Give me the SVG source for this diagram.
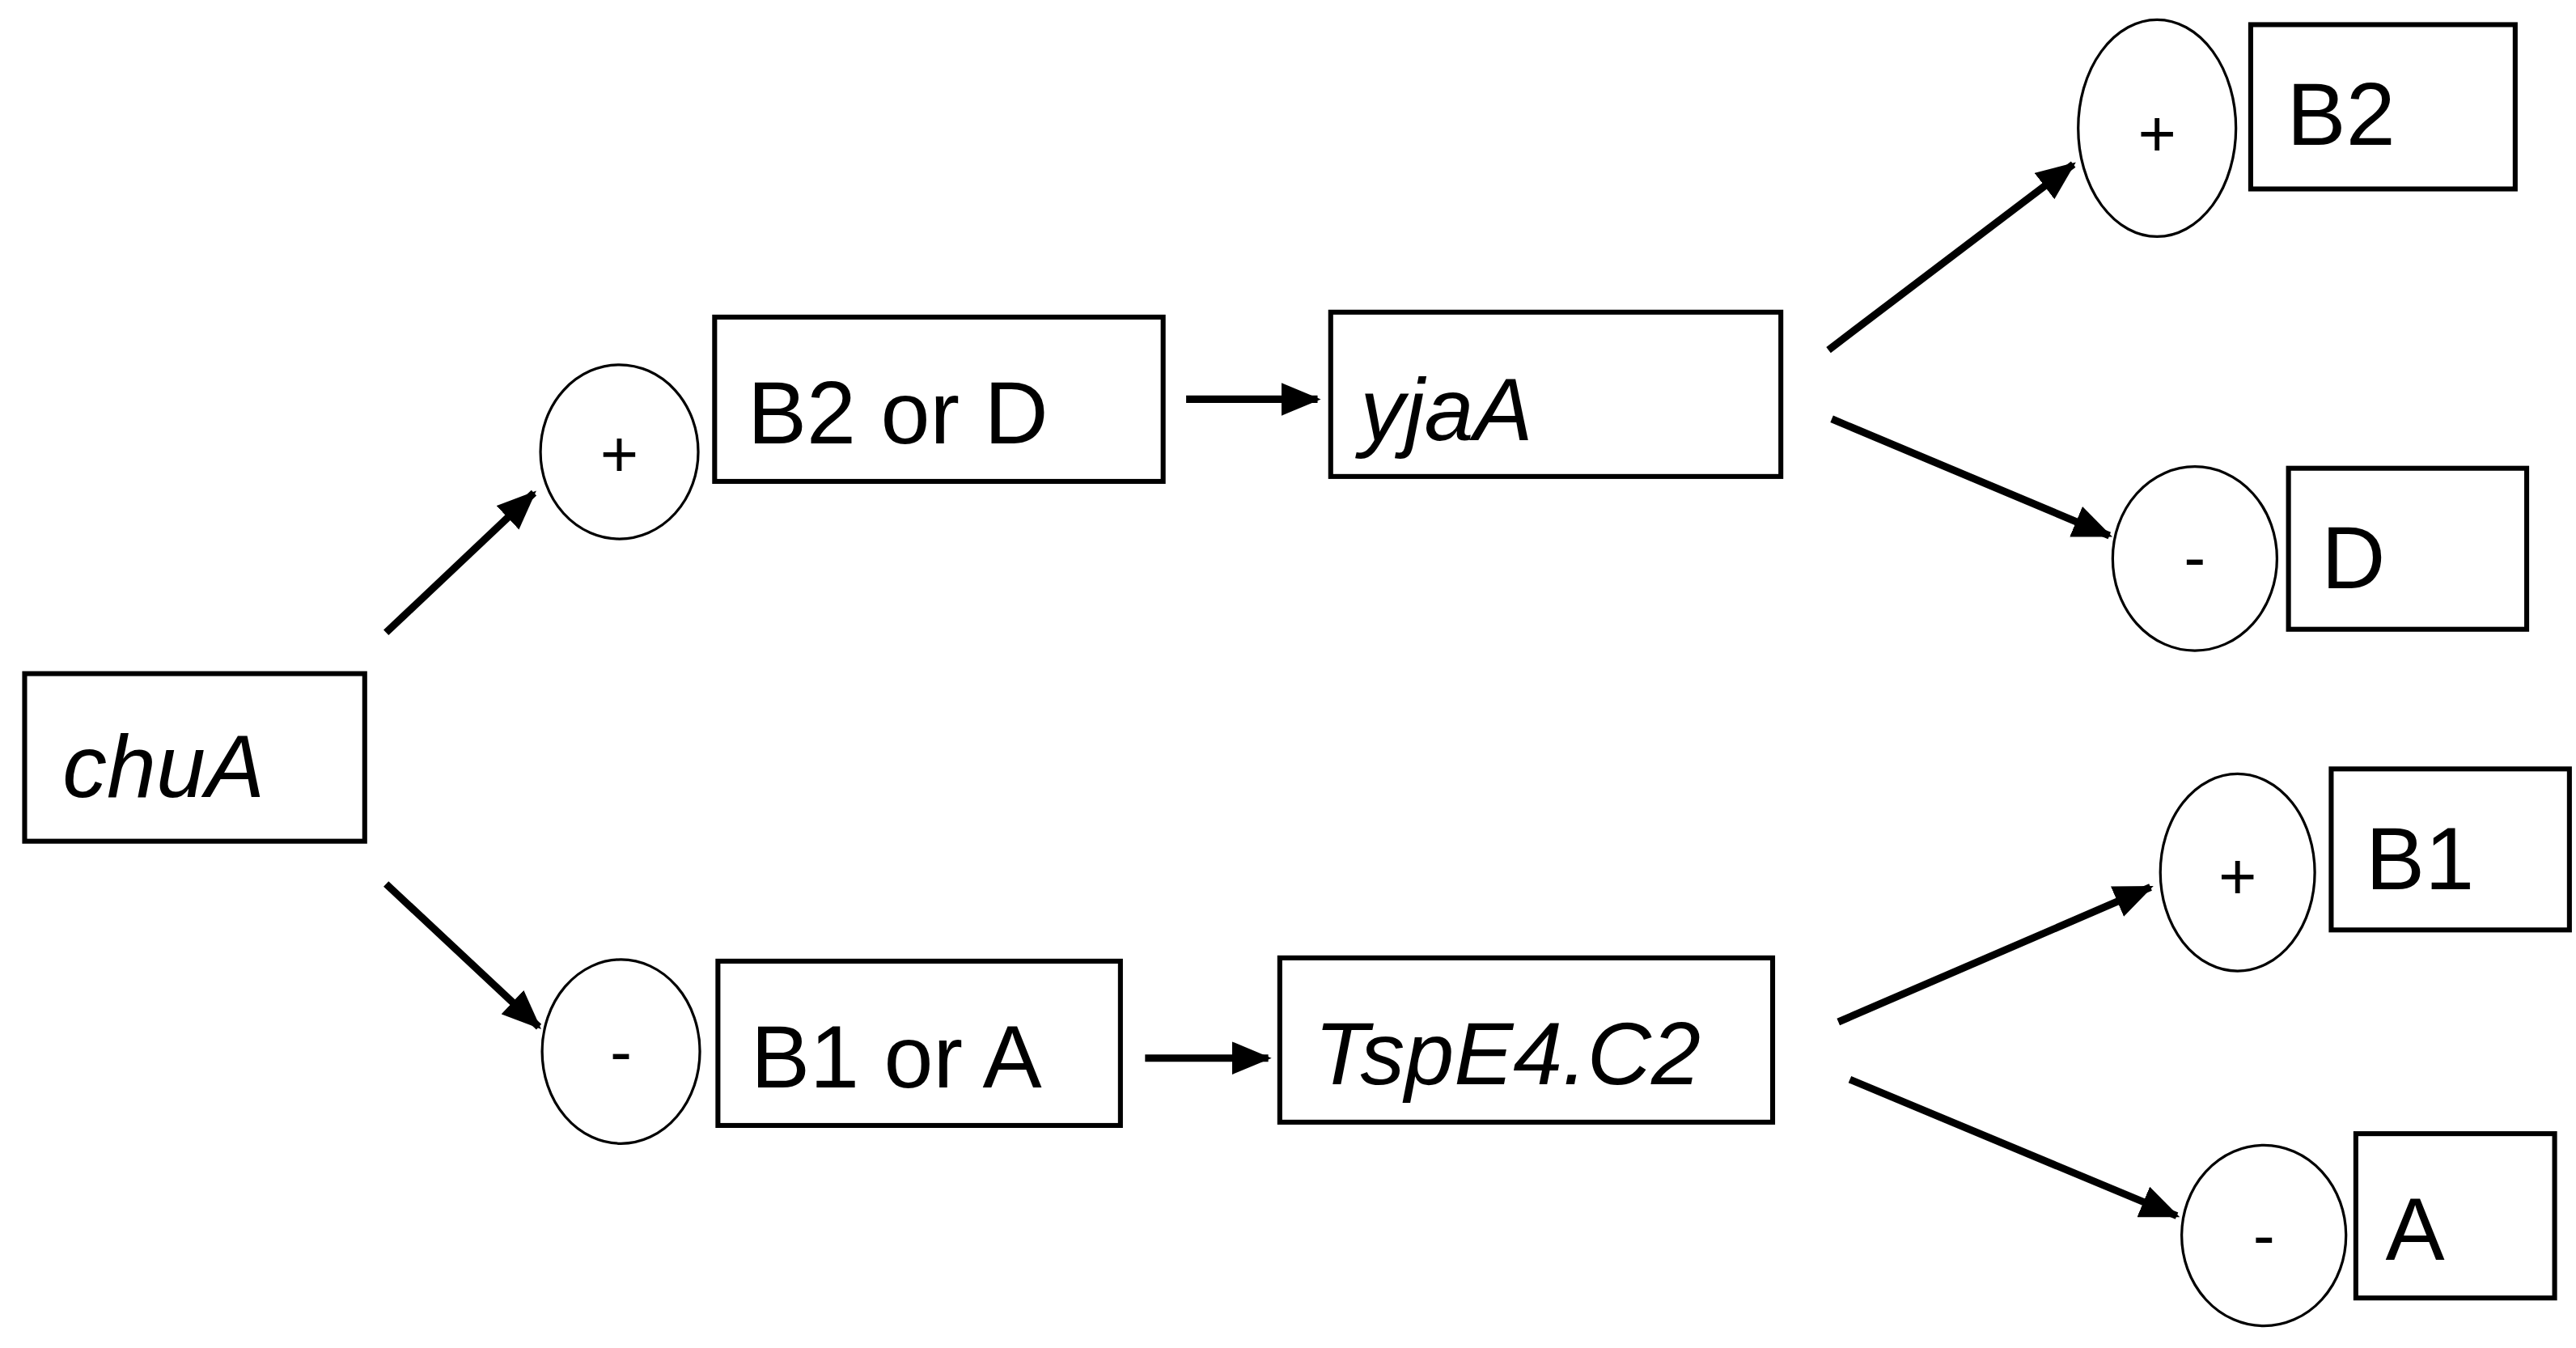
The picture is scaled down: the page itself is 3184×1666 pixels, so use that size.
<svg xmlns="http://www.w3.org/2000/svg" width="3184" height="1666" viewBox="0 0 3184 1666">
<style>
.b{fill:#fff;stroke:#000;stroke-width:3}
.e{fill:#fff;stroke:#000;stroke-width:1.6}
.t{font-family:"Liberation Sans","Open Sans",sans-serif;font-size:54px;fill:#000}
.i{font-style:italic}
.s{font-family:"Liberation Sans",sans-serif;font-size:40px;text-anchor:middle;fill:#000}
.a{stroke:#000;stroke-width:4.5;fill:none;marker-end:url(#h)}
</style>
<defs><marker id="h" markerUnits="userSpaceOnUse" markerWidth="24" markerHeight="20" refX="22" refY="10" orient="auto"><path d="M0,0 L24,10 L0,20 Z" fill="#000"/></marker></defs>
<rect width="3184" height="1666" fill="#fff"/>
<g transform="scale(2.0306)">
<g id="connectors">
<line class="a" x1="235" y1="385" x2="325" y2="300"/>
<line class="a" x1="235" y1="538" x2="328" y2="625"/>
<line class="a" x1="722" y1="243" x2="802" y2="243"/>
<line class="a" x1="697" y1="644" x2="772" y2="644"/>
<line class="a" x1="1113" y1="213" x2="1262" y2="100"/>
<line class="a" x1="1115" y1="255" x2="1284" y2="326"/>
<line class="a" x1="1119" y1="622" x2="1309" y2="540"/>
<line class="a" x1="1126" y1="657" x2="1325" y2="740"/>
</g>
<g id="chuA"><rect class="b" x="15" y="410" width="207" height="102"/><text class="t i" x="38" y="485">chuA</text></g>
<g id="plus1"><ellipse class="e" cx="377" cy="275" rx="48" ry="53"/><text class="s" x="377" y="290">+</text></g>
<g id="b2ord"><rect class="b" x="435" y="193" width="273" height="100"/><text class="t" x="455" y="270">B2 or D</text></g>
<g id="yjaA"><rect class="b" x="810" y="190" width="274" height="100"/><text class="t i" x="828" y="268">yjaA</text></g>
<g id="plus2"><ellipse class="e" cx="1313" cy="78" rx="48" ry="66"/><text class="s" x="1313" y="95">+</text></g>
<g id="B2"><rect class="b" x="1370" y="15" width="161" height="100"/><text class="t" x="1392" y="88">B2</text></g>
<g id="minus2"><ellipse class="e" cx="1336" cy="340" rx="50" ry="56"/><text class="s" x="1336" y="353">-</text></g>
<g id="D"><rect class="b" x="1393" y="285" width="145" height="98"/><text class="t" x="1413" y="358">D</text></g>
<g id="minus1"><ellipse class="e" cx="378" cy="640" rx="48" ry="56"/><text class="s" x="378" y="654">-</text></g>
<g id="b1ora"><rect class="b" x="437" y="585" width="245" height="100"/><text class="t" x="457" y="662">B1 or A</text></g>
<g id="tsp"><rect class="b" x="779" y="583" width="300" height="100"/><text class="t i" x="800" y="660">TspE4.C2</text></g>
<g id="plus3"><ellipse class="e" cx="1362" cy="531" rx="47" ry="60"/><text class="s" x="1362" y="547">+</text></g>
<g id="B1"><rect class="b" x="1419" y="468" width="145" height="98"/><text class="t" x="1440" y="541">B1</text></g>
<g id="minus3"><ellipse class="e" cx="1378" cy="752" rx="50" ry="55"/><text class="s" x="1378" y="766">-</text></g>
<g id="A"><rect class="b" x="1434" y="690" width="121" height="100"/><text class="t" x="1452" y="767">A</text></g>
</g>
</svg>
